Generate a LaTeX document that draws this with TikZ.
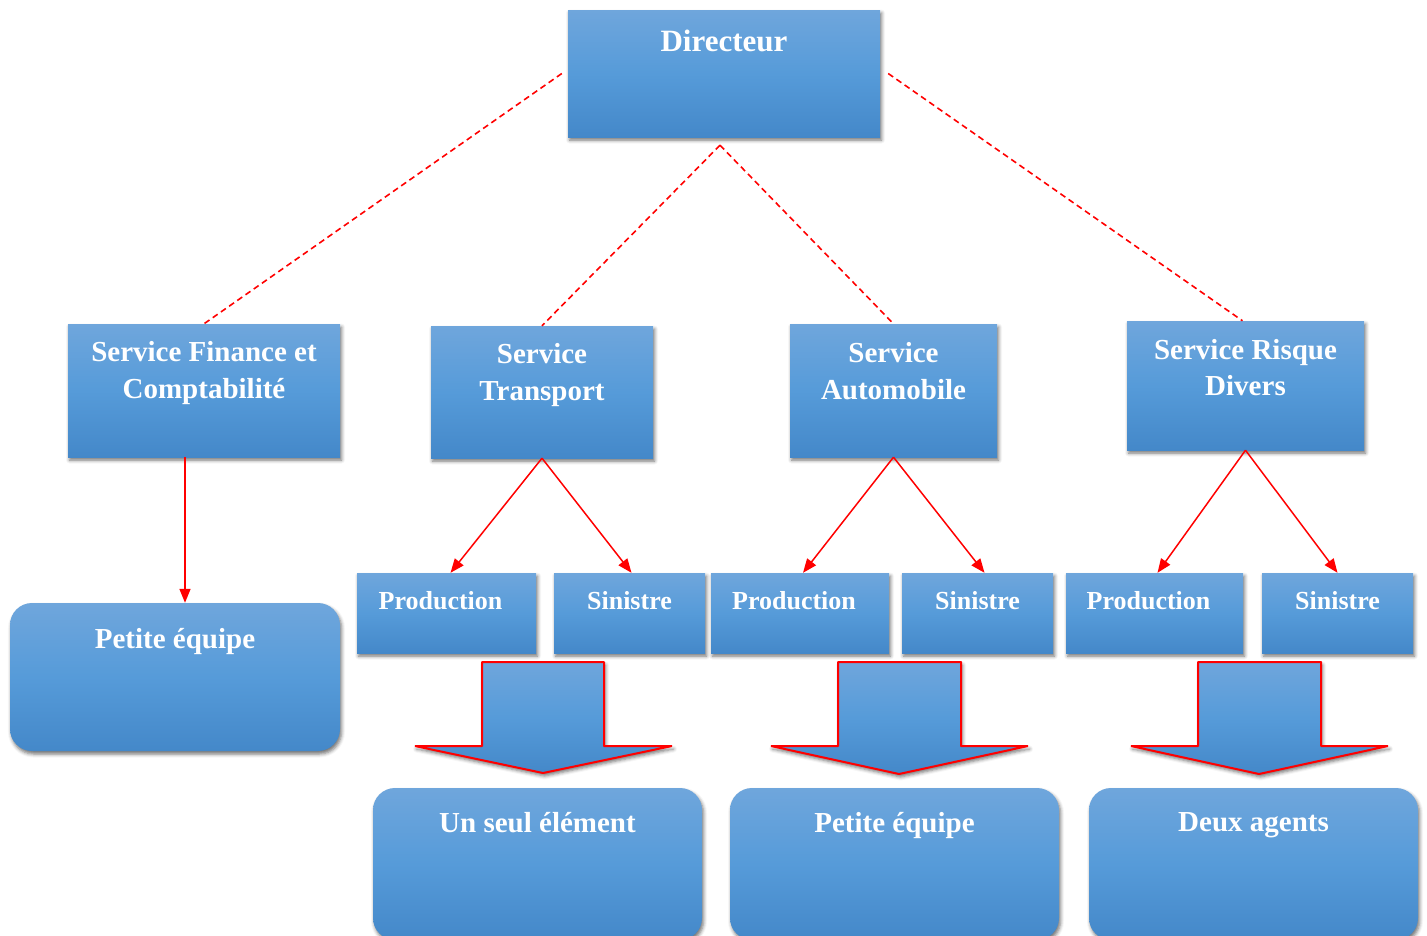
\documentclass[tikz,border=0pt]{standalone}
\usepackage{fontspec}
\setmainfont{Liberation Serif}
\usetikzlibrary{arrows.meta,shadows.blur}
\definecolor{boxtop}{RGB}{111,166,220}
\definecolor{boxmid}{RGB}{86,155,217}
\definecolor{boxbot}{RGB}{68,136,201}
\begin{document}
\begin{tikzpicture}[x=1pt,y=-1pt,
  softshadow/.style={blur shadow={shadow xshift=1.5pt, shadow yshift=-3pt,
      shadow blur radius=3.5pt, shadow opacity=55}},
  bluefill/.style={top color=boxtop, bottom color=boxbot, middle color=boxmid},
  box/.style={rectangle, inner sep=0pt, bluefill, softshadow},
  roundbox/.style={box, rounded corners=22pt},
  txt/.style={text=white, inner sep=0pt, anchor=north, align=center},
  bigtxt/.style={txt, font=\fontsize{31}{37}\selectfont\bfseries},
  midtxt/.style={txt, font=\fontsize{29}{37}\selectfont\bfseries},
  smalltxt/.style={txt, font=\fontsize{26}{30}\selectfont\bfseries},
  dashline/.style={red, line width=1.6pt, dash pattern=on 6pt off 4pt},
  redarrow/.style={red, line width=1.5pt, -{Triangle[length=14pt,width=11pt]}},
  blockarrow/.style={bluefill, draw=red, line width=2pt, line join=bevel, softshadow}
]
\useasboundingbox (0,0) rectangle (1427,935);

% top level
\node[box, minimum width=312pt, minimum height=127pt] (dir) at (724,73.5) {};
\node[bigtxt] (dirt) at ([yshift=-20pt]dir.north) {Directeur};

% services
\node[box, minimum width=272pt, minimum height=133pt] (fin) at (204,390.5) {};
\node[midtxt] (fint) at ([yshift=-17pt]fin.north) {Service Finance et\\Comptabilité};
\node[box, minimum width=222pt, minimum height=132pt] (tra) at (542,392) {};
\node[midtxt] (trat) at ([yshift=-17pt]tra.north) {Service\\Transport};
\node[box, minimum width=207pt, minimum height=133pt] (aut) at (893.5,390.5) {};
\node[midtxt] (autt) at ([yshift=-18pt]aut.north) {Service\\Automobile};
\node[box, minimum width=237pt, minimum height=129pt] (ris) at (1245.5,385.5) {};
\node[midtxt, font=\fontsize{29}{36}\selectfont\bfseries] (rist) at ([yshift=-18pt]ris.north) {Service Risque\\Divers};

% sub-services
\node[box, minimum width=179pt, minimum height=80pt] (p1) at (446.5,613) {};
\node[smalltxt] (p1t) at ([yshift=-18pt,xshift=-6pt]p1.north) {Production};
\node[box, minimum width=151pt, minimum height=80pt] (s1) at (629.5,613) {};
\node[smalltxt] (s1t) at ([yshift=-18pt]s1.north) {Sinistre};
\node[box, minimum width=178pt, minimum height=80pt] (p2) at (800,613) {};
\node[smalltxt] (p2t) at ([yshift=-18pt,xshift=-6pt]p2.north) {Production};
\node[box, minimum width=151pt, minimum height=80pt] (s2) at (977.5,613) {};
\node[smalltxt] (s2t) at ([yshift=-18pt]s2.north) {Sinistre};
\node[box, minimum width=177pt, minimum height=80pt] (p3) at (1154.5,613) {};
\node[smalltxt] (p3t) at ([yshift=-18pt,xshift=-6pt]p3.north) {Production};
\node[box, minimum width=151pt, minimum height=80pt] (s3) at (1337.5,613) {};
\node[smalltxt] (s3t) at ([yshift=-18pt]s3.north) {Sinistre};

% team sizes
\node[roundbox, minimum width=330pt, minimum height=148pt] (pe0) at (175,677) {};
\node[midtxt] (pe0t) at ([yshift=-25pt]pe0.north) {Petite équipe};
\node[roundbox, minimum width=329pt, minimum height=152pt] (u1) at (537.5,864) {};
\node[midtxt] (u1t) at ([yshift=-24pt]u1.north) {Un seul élément};
\node[roundbox, minimum width=329pt, minimum height=152pt] (u2) at (894.5,864) {};
\node[midtxt] (u2t) at ([yshift=-24pt]u2.north) {Petite équipe};
\node[roundbox, minimum width=329pt, minimum height=152pt] (u3) at (1253.5,864) {};
\node[midtxt] (u3t) at ([yshift=-24pt]u3.north) {Deux agents};

% block arrows
\path[blockarrow] (482,662) -- (604,662) -- (604,746) -- (672,746) -- (543,773)
  -- (415,746) -- (482,746) -- cycle;
\path[blockarrow] (838,662) -- (961,662) -- (961,746) -- (1028,746) -- (899,774)
  -- (771,746) -- (838,746) -- cycle;
\path[blockarrow] (1198,662) -- (1321,662) -- (1321,746) -- (1388,746) -- (1259,774)
  -- (1131,746) -- (1198,746) -- cycle;

% dashed links from the director
\coordinate (apex) at ([xshift=-4pt,yshift=-8pt]dir.south);
\draw[dashline] ([xshift=-6pt]dir.west) -- (fin.north);
\draw[dashline] ([xshift=8pt]dir.east) -- ([xshift=-3pt]ris.north);
\draw[dashline] (apex) -- (tra.north);
\draw[dashline] (apex) -- (aut.north);

% solid arrows to sub-units
\draw[redarrow] ([xshift=-19pt]fin.south) -- ([xshift=-19pt]fin.south |- pe0.north);
\draw[redarrow] (tra.south) -- ([xshift=4pt]p1.north);
\draw[redarrow] (tra.south) -- ([xshift=2pt]s1.north);
\draw[redarrow] (aut.south) -- ([xshift=3pt]p2.north);
\draw[redarrow] (aut.south) -- ([xshift=7pt]s2.north);
\draw[redarrow] (ris.south) -- ([xshift=3pt]p3.north);
\draw[redarrow] (ris.south) -- (s3.north);
\end{tikzpicture}
\end{document}
